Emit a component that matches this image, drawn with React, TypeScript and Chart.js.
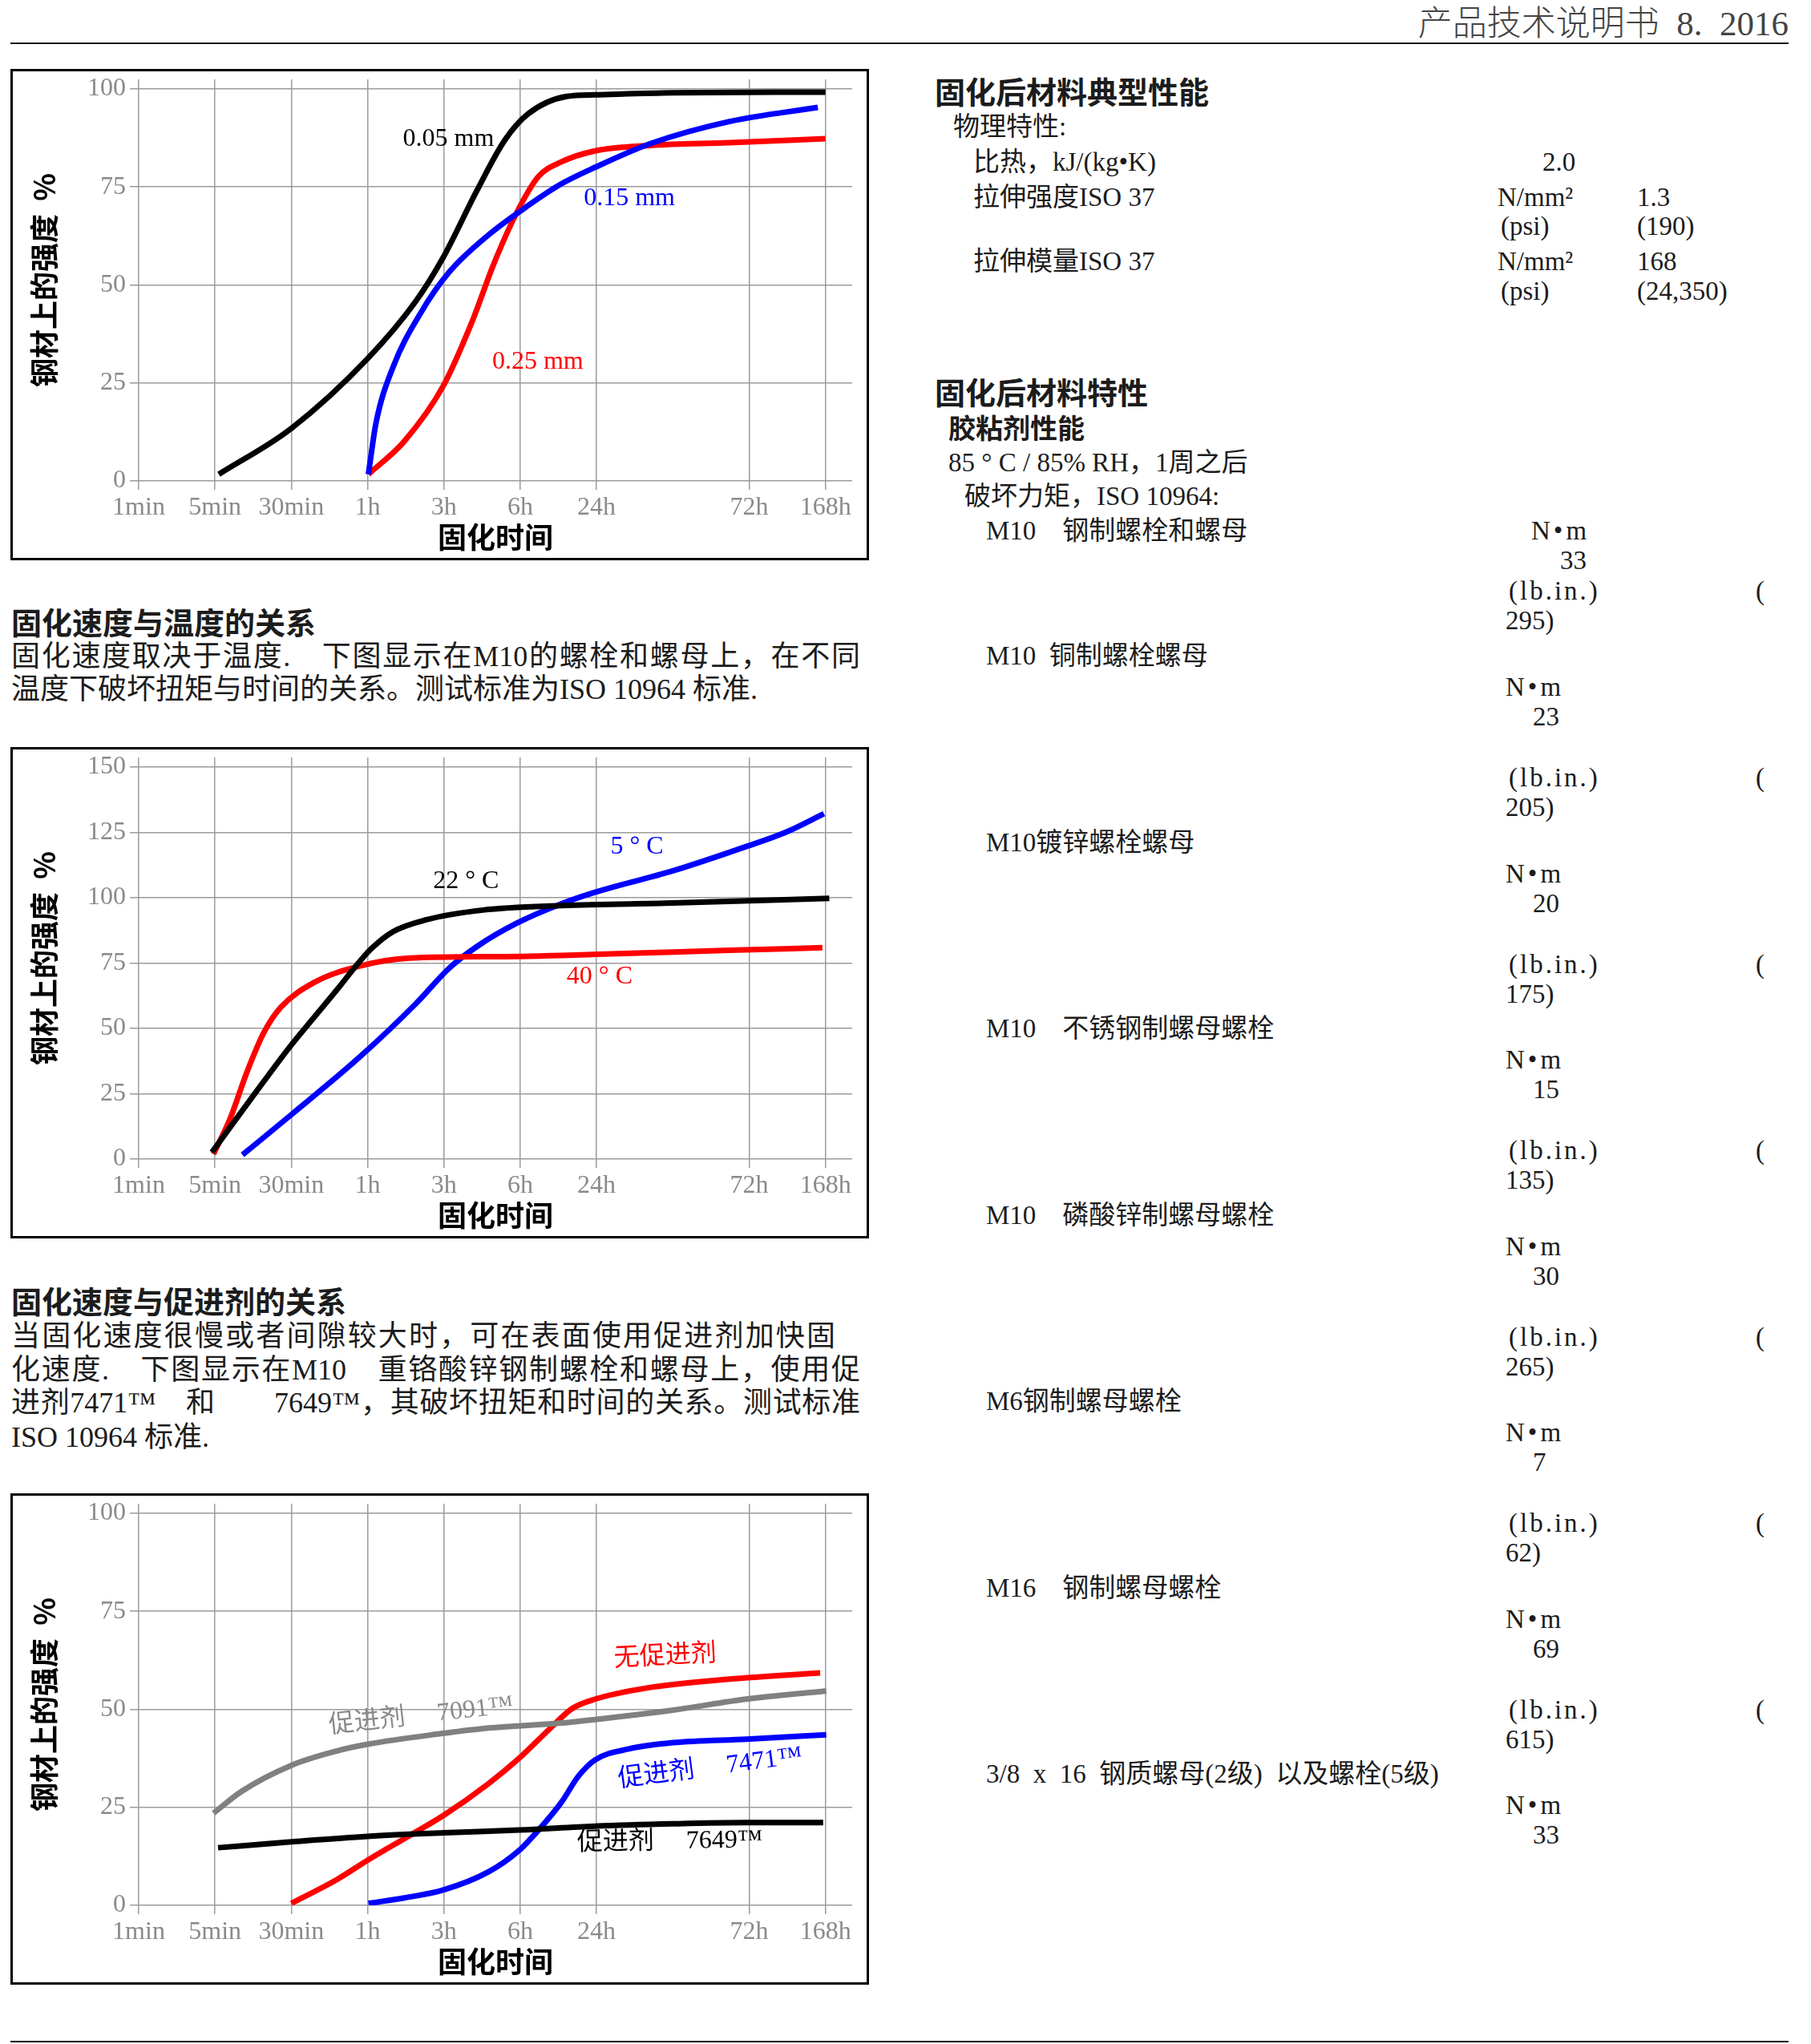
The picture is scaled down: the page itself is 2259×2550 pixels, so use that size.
import { useEffect, useRef } from "react";
import { Chart, registerables } from "chart.js";

Chart.register(...registerables);

const FONT = "'Noto Sans CJK SC', 'Noto Sans', sans-serif";
const SERIF = "'Liberation Serif', 'Noto Sans CJK SC', serif";
const GRID = "#9b9b9b";
const TICK = "#8a8a8a";

// shared x axis (category index, 48h slot left empty)
const xLabels = ["1min", "5min", "30min", "1h", "3h", "6h", "24h", "", "72h", "168h"];
const xTicks = [0, 1, 2, 3, 4, 5, 6, 8, 9];

// chart 1: gap
const gap005X = [1.05, 2.0, 3.0, 3.63, 3.99, 4.43, 4.8, 5.1, 5.61, 5.98, 7.0, 9.0];
const gap005Y = [1.7, 13.4, 31.2, 45.8, 57, 74, 87, 93.6, 98.1, 98.5, 99, 99.2];
const gap015X = [3.01, 3.11, 3.33, 3.7, 4.07, 4.58, 5.1, 5.54, 5.98, 6.71, 7.74, 8.9];
const gap015Y = [1.7, 14.8, 28.9, 43, 53.3, 62.7, 70.2, 75.8, 80, 86.1, 91.7, 95.3];
const gap025X = [3.01, 3.48, 3.99, 4.36, 4.65, 4.95, 5.24, 5.54, 5.98, 6.71, 7.74, 9.0];
const gap025Y = [1.7, 10.1, 24.2, 40.2, 55.2, 68.3, 77.7, 81.4, 84.2, 85.6, 86.3, 87.3];

// chart 2: temperature
const t22X = [0.96, 1.49, 2.0, 2.3, 2.6, 2.85, 3.04, 3.33, 3.77, 4.51, 5.54, 7.0, 9.05];
const t22Y = [2.6, 23.8, 43.7, 54.3, 64.9, 74.0, 80.3, 87.0, 91.6, 95.3, 97, 98, 99.8];
const t40X = [0.98, 1.2, 1.42, 1.64, 1.86, 2.3, 2.89, 3.55, 4.8, 6.27, 7.74, 8.96];
const t40Y = [1.9, 15.6, 33.4, 48.4, 58, 67.6, 73.8, 76.9, 77.5, 78.6, 79.9, 80.9];
const t5X = [1.36, 2.0, 2.89, 3.63, 4.07, 4.43, 4.95, 5.54, 5.98, 7.0, 7.96, 8.48, 8.98];
const t5Y = [1.6, 17, 38.9, 59.4, 73.1, 81.3, 90.2, 97.7, 102.1, 110.3, 119.6, 125.1, 132.2];

// chart 3: activator
const a7091X = [0.98, 1.35, 2.0, 2.6, 3.0, 4.0, 4.51, 5.54, 5.98, 7.0, 7.96, 9.01];
const a7091Y = [23.5, 29.1, 35.7, 39.4, 41.1, 43.9, 45.1, 46.5, 47.4, 49.8, 52.6, 54.7];
const noActX = [2.0, 2.6, 3.0, 3.55, 4.0, 4.58, 4.99, 5.39, 5.68, 5.98, 6.64, 7.74, 8.93];
const noActY = [0.5, 6.6, 11.5, 17.8, 23, 31, 37.6, 45.1, 50.2, 52.6, 55.4, 57.7, 59.3];
const a7471X = [3.01, 3.48, 3.99, 4.58, 4.99, 5.24, 5.54, 5.76, 5.98, 6.42, 7.0, 7.96, 9.01];
const a7471Y = [0.5, 1.9, 3.9, 8.5, 14.1, 19.2, 26.3, 32.9, 37.1, 39.9, 41.5, 42.4, 43.5];
const a7649X = [1.04, 2.0, 3.0, 4.0, 4.99, 5.98, 7.0, 7.96, 8.97];
const a7649Y = [14.7, 16.2, 17.6, 18.5, 19.2, 20.2, 20.8, 21.1, 21.1];

const yTicks100 = [0, 25, 50, 75, 100];
const yTicks150 = [0, 25, 50, 75, 100, 125, 150];

type Line = { xs: number[]; ys: number[]; color: string };
type Note = { text: string; x: number; y: number; color: string; angle?: number };

const labelPlugin = {
  id: "pageLabels",
  afterDatasetsDraw(chart: any, _args: any, opts: any) {
    const { ctx, chartArea: a, scales } = chart;
    ctx.save();
    ctx.fillStyle = "#000";
    ctx.textAlign = "center";
    ctx.textBaseline = "middle";
    ctx.font = `bold 36px ${FONT}`;
    ctx.fillText("固化时间", (a.left + a.right) / 2, a.bottom + 70);
    ctx.save();
    ctx.translate(a.left - 118, (a.top + a.bottom) / 2);
    ctx.rotate(-Math.PI / 2);
    ctx.fillText("钢材上的强度  %", 0, 0);
    ctx.restore();
    ctx.font = `32px ${SERIF}`;
    for (const n of opts.notes as Note[]) {
      ctx.save();
      ctx.translate(scales.x.getPixelForValue(n.x), scales.y.getPixelForValue(n.y));
      ctx.rotate(((n.angle || 0) * Math.PI) / 180);
      ctx.fillStyle = n.color;
      ctx.fillText(n.text, 0, 0);
      ctx.restore();
    }
    ctx.restore();
  },
};

function CureChart({ lines, notes, yMax, yTicks }: { lines: Line[]; notes: Note[]; yMax: number; yTicks: number[] }) {
  const ref = useRef<HTMLCanvasElement>(null);
  useEffect(() => {
    if (!ref.current) return;
    const chart = new Chart(ref.current, {
      type: "line",
      data: {
        datasets: lines.map((l) => ({
          data: l.xs.map((x, i) => ({ x, y: l.ys[i] })),
          borderColor: l.color,
          borderWidth: 7,
          pointRadius: 0,
          cubicInterpolationMode: "monotone" as const,
          fill: false,
        })),
      },
      options: {
        animation: false,
        responsive: true,
        maintainAspectRatio: false,
        layout: { padding: { top: 10, right: 18, left: 0, bottom: 0 } },
        plugins: {
          legend: { display: false },
          tooltip: { enabled: false },
          pageLabels: { notes },
        } as any,
        scales: {
          x: {
            type: "linear",
            min: 0,
            max: 9.35,
            afterBuildTicks: (ax: any) => {
              ax.ticks = xTicks.map((v) => ({ value: v }));
            },
            afterFit: (s: any) => {
              s.height = 96;
              s.paddingLeft = 0;
              s.paddingRight = 0;
            },
            ticks: {
              callback: (v: any) => xLabels[v],
              font: { size: 32, family: SERIF },
              color: TICK,
              padding: 3,
              maxRotation: 0,
              autoSkip: false,
            },
            grid: { color: GRID, lineWidth: 1.5, tickLength: 11 },
            border: { display: false },
          },
          y: {
            min: 0,
            max: yMax,
            afterBuildTicks: (ax: any) => {
              ax.ticks = yTicks.map((v) => ({ value: v }));
            },
            afterFit: (s: any) => {
              s.width = 157;
              s.paddingTop = 0;
              s.paddingBottom = 0;
            },
            ticks: { font: { size: 32, family: SERIF }, color: TICK, padding: 5 },
            grid: { color: GRID, lineWidth: 1.5, tickLength: 11 },
            border: { display: false },
          },
        },
      },
      plugins: [labelPlugin],
    });
    return () => chart.destroy();
  }, []);
  return <canvas ref={ref} />;
}

function Box({ top, children }: { top: number; children: any }) {
  return (
    <div style={{ position: "absolute", left: 13, top, width: 1071, height: 613, border: "3px solid #000", boxSizing: "border-box" }}>
      <div style={{ position: "relative", width: 1065, height: 607 }}>{children}</div>
    </div>
  );
}

function T({ x, y, size = 33, bold = false, w, ls, children }: { x: number; y: number; size?: number; bold?: boolean; w?: number; ls?: number; children: any }) {
  return (
    <div
      style={{
        position: "absolute",
        left: x,
        top: y - 24,
        height: 48,
        lineHeight: "48px",
        fontSize: size,
        fontFamily: bold ? FONT : SERIF,
        fontWeight: bold ? 700 : 400,
        letterSpacing: ls,
        whiteSpace: w ? "normal" : "pre",
        width: w,
        textAlign: w ? "justify" : "left",
        textAlignLast: w ? "justify" : "auto",
      }}
    >
      {children}
    </div>
  );
}

const leftHeads = [
  { text: "固化速度与温度的关系", y: 775 },
  { text: "固化速度与促进剂的关系", y: 1622 },
];
const leftBody = [
  { text: "固化速度取决于温度.\u3000下图显示在M10的螺栓和螺母上，在不同", y: 819, w: 1059 },
  { text: "温度下破坏扭矩与时间的关系。测试标准为ISO 10964 标准.", y: 860, w: 0 },
  { text: "当固化速度很慢或者间隙较大时，可在表面使用促进剂加快固", y: 1667, w: 1028 },
  { text: "化速度.\u3000下图显示在M10\u3000重铬酸锌钢制螺栓和螺母上，使用促", y: 1709, w: 1059 },
  { text: "进剂7471™\u3000和\u3000\u30007649™，其破坏扭矩和时间的关系。测试标准", y: 1750, w: 1059 },
  { text: "ISO 10964 标准.", y: 1793, w: 0 },
];

const physRows: [string, number, number][] = [
  ["比热，kJ/(kg•K)", 1214, 202],
  ["2.0", 1924, 202],
  ["拉伸强度ISO 37", 1214, 246],
  ["N/mm²", 1868, 246],
  ["1.3", 2042, 246],
  ["(psi)", 1872, 282],
  ["(190)", 2042, 282],
  ["拉伸模量ISO 37", 1214, 326],
  ["N/mm²", 1868, 326],
  ["168", 2042, 326],
  ["(psi)", 1872, 363],
  ["(24,350)", 2042, 363],
];

const boltNames = [
  "M10\u3000钢制螺栓和螺母",
  "M10\u2002铜制螺栓螺母",
  "M10镀锌螺栓螺母",
  "M10\u3000不锈钢制螺母螺栓",
  "M10\u3000磷酸锌制螺母螺栓",
  "M6钢制螺母螺栓",
  "M16\u3000钢制螺母螺栓",
  "3/8\u2002x\u200216\u2002钢质螺母(2级)\u2002以及螺栓(5级)",
];
const torqueNm = ["33", "23", "20", "15", "30", "7", "69", "33"];
const torqueLbIn = ["295)", "205)", "175)", "135)", "265)", "62)", "615)", ""];

function TorqueList() {
  const out: any[] = [];
  boltNames.forEach((name, i) => {
    const ty = i === 0 ? 662 : 818 + 232.5 * (i - 1);
    const nmY = i === 0 ? ty : ty + 39;
    const valY = i === 0 ? ty + 37 : ty + 76;
    const lbY = i === 0 ? valY + 38 : ty + 152;
    out.push(<T key={"n" + i} x={1230} y={ty}>{name}</T>);
    out.push(
      <T key={"u" + i} x={i === 0 ? 1910 : 1878} y={nmY} ls={4}>
        N•m
      </T>
    );
    out.push(<T key={"v" + i} x={i === 0 ? 1946 : 1912} y={valY}>{torqueNm[i]}</T>);
    if (torqueLbIn[i]) {
      out.push(<T key={"l" + i} x={1882} y={lbY} ls={3}>(lb.in.)</T>);
      out.push(<T key={"p" + i} x={2190} y={lbY}>(</T>);
      out.push(<T key={"w" + i} x={1878} y={lbY + 37}>{torqueLbIn[i]}</T>);
    }
  });
  return <>{out}</>;
}

export default function App() {
  return (
    <div
      style={{
        position: "absolute",
        left: 0,
        top: 0,
        width: 2259,
        height: 2550,
        background: "#fff",
        fontFamily: SERIF,
        color: "#1c1c1c",
        overflow: "hidden",
      }}
    >
      <div style={{ position: "absolute", right: 28, top: 2, fontSize: 43, lineHeight: "56px", color: "#444", fontWeight: 300, whiteSpace: "pre" }}>
        产品技术说明书{"\u20028.\u20022016"}
      </div>
      <div style={{ position: "absolute", left: 13, top: 53, width: 2218, height: 2, background: "#111" }} />
      <div style={{ position: "absolute", left: 13, top: 2546, width: 2218, height: 2, background: "#111" }} />

      <Box top={86}>
        <CureChart
          yMax={102.45}
          yTicks={yTicks100}
          lines={[
            { xs: gap005X, ys: gap005Y, color: "#000000" },
            { xs: gap015X, ys: gap015Y, color: "#0000ff" },
            { xs: gap025X, ys: gap025Y, color: "#ff0000" },
          ]}
          notes={[
            { text: "0.05 mm", x: 4.06, y: 87.1, color: "#000000" },
            { text: "0.15 mm", x: 6.43, y: 72.0, color: "#0000ff" },
            { text: "0.25 mm", x: 5.23, y: 30.3, color: "#ff0000" },
          ]}
        />
      </Box>

      <Box top={932}>
        <CureChart
          yMax={153.7}
          yTicks={yTicks150}
          lines={[
            { xs: t22X, ys: t22Y, color: "#000000" },
            { xs: t40X, ys: t40Y, color: "#ff0000" },
            { xs: t5X, ys: t5Y, color: "#0000ff" },
          ]}
          notes={[
            { text: "22 ° C", x: 4.29, y: 106.3, color: "#000000" },
            { text: "5 ° C", x: 6.53, y: 119.4, color: "#0000ff" },
            { text: "40 ° C", x: 6.04, y: 69.7, color: "#ff0000" },
          ]}
        />
      </Box>

      <Box top={1863}>
        <CureChart
          yMax={102.45}
          yTicks={yTicks100}
          lines={[
            { xs: a7091X, ys: a7091Y, color: "#808080" },
            { xs: a7649X, ys: a7649Y, color: "#000000" },
            { xs: noActX, ys: noActY, color: "#ff0000" },
            { xs: a7471X, ys: a7471Y, color: "#0000ff" },
          ]}
          notes={[
            { text: "无促进剂", x: 6.9, y: 63.4, color: "#ff0000", angle: -3 },
            { text: "促进剂\u3000 7091™", x: 3.7, y: 48.3, color: "#8a8a8a", angle: -6.5 },
            { text: "促进剂\u3000 7471™", x: 7.49, y: 35.0, color: "#0000ff", angle: -7.5 },
            { text: "促进剂\u3000 7649™", x: 6.96, y: 16.2, color: "#000000", angle: -1 },
          ]}
        />
      </Box>

      {leftHeads.map((h) => (
        <T key={h.text} x={14} y={h.y} size={38} bold>
          {h.text}
        </T>
      ))}
      {leftBody.map((l) => (
        <T key={l.text} x={14} y={l.y} size={36} w={l.w || undefined}>
          {l.text}
        </T>
      ))}

      <T x={1166} y={113} size={38} bold>固化后材料典型性能</T>
      <T x={1189} y={158}>物理特性:</T>
      {physRows.map(([t, x, y], i) => (
        <T key={i} x={x} y={y}>
          {t}
        </T>
      ))}
      <T x={1166} y={488} size={38} bold>固化后材料特性</T>
      <T x={1183} y={533} size={34} bold>胶粘剂性能</T>
      <T x={1183} y={577}>85 ° C / 85% RH，1周之后</T>
      <T x={1203} y={619}>破坏力矩，ISO 10964:</T>
      <TorqueList />
    </div>
  );
}
